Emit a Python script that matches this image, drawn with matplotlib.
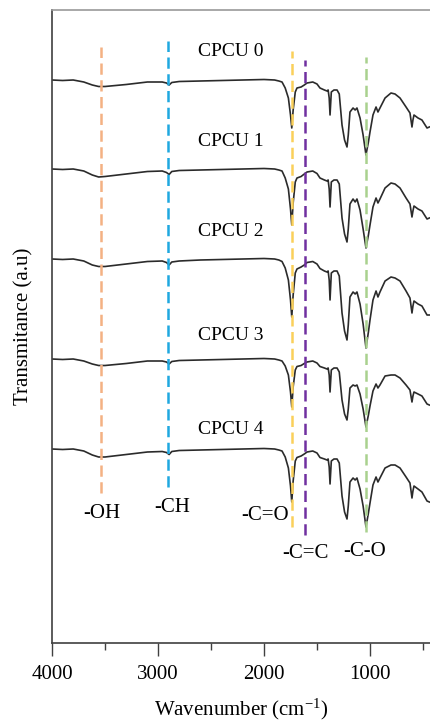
import numpy as np
import matplotlib
matplotlib.use("Agg")
from matplotlib import pyplot as plt

plt.rcParams['font.family'] = ['Liberation Serif', 'DejaVu Serif']
plt.rcParams['mathtext.fontset'] = 'custom'
plt.rcParams['mathtext.rm'] = 'Liberation Serif'
plt.rcParams['mathtext.it'] = 'Liberation Serif:italic'

# wavenumber grid (cm-1)
wn = [4000, 3900, 3800, 3700, 3620, 3560, 3500, 3300, 3100, 2960,
      2920, 2895, 2870, 2800, 2600, 2400, 2200, 2000, 1900, 1860,
      1830, 1800, 1770, 1750, 1738, 1725, 1705, 1689, 1650, 1620,
      1594, 1540, 1500, 1472, 1430, 1406, 1395, 1385, 1377, 1365,
      1340, 1311, 1290, 1264, 1240, 1217, 1205, 1189, 1160, 1140,
      1123, 1094, 1065, 1038, 1015, 1000, 972, 943, 925, 906,
      858, 802, 764, 717, 660, 623, 604, 595, 585, 547,
      510, 462, 440]

# absorption depth below each trace's baseline (a.u.)
cpcu0 = [0, 0.5, 0, 2, 5, 6.5, 6.5, 4.5, 2, 2,
         3, 5, 2.5, 1.5, 1, 0.5, 0, -0.5, 0, 1,
         2, 8, 18, 35, 48, 30, 12, 8, 7, 5,
         3, 2, 4, 8, 10, 11, 10, 18, 35, 12,
         10, 10, 14, 45, 60, 67, 55, 32, 28, 30,
         28, 38, 55, 75, 62, 52, 35, 27, 32, 28,
         18, 13, 14, 18, 27, 33, 47, 40, 35, 38,
         40, 48, 47]
cpcu1 = [0, 0.5, 0, 2, 6, 8, 7.5, 5, 2.5, 2,
         3.5, 5.5, 2.5, 1.5, 1, 0.5, 0, -0.5, 0, 1,
         2, 9, 20, 40, 56, 34, 13, 9, 7.5, 5,
         3, 2, 4.5, 9, 11, 12, 11, 20, 38, 13,
         11, 11, 15, 49, 65, 73, 60, 35, 30, 33,
         30, 41, 60, 79, 66, 56, 38, 29, 34, 30,
         19, 14, 15, 19, 29, 35, 48, 42, 37, 40,
         42, 50, 49]
cpcu2 = [0, 0.5, 0, 2, 6, 7.5, 7.5, 5, 2.5, 2,
         3.5, 6, 3, 2, 1, 0.5, 0, -0.5, 0, 1,
         2.5, 9, 21, 41, 58, 36, 14, 10, 8, 6,
         3.5, 2.5, 5, 9.5, 12, 13, 12, 21, 41, 14,
         12, 12, 17, 54, 72, 81, 66, 38, 33, 35,
         33, 45, 65, 89, 73, 61, 41, 32, 38, 33,
         22, 18, 19, 22, 32, 39, 54, 47, 42, 45,
         47, 56, 56]
cpcu3 = [0, 0.5, 0, 2, 5, 6.5, 6.5, 4.5, 2, 2,
         3, 5, 2.5, 1.5, 1, 0.5, 0, -0.5, 0, 1,
         2, 7, 16, 33, 48, 28, 11, 7.5, 6.5, 4.5,
         3, 2, 4, 7.5, 9, 10, 9, 16, 33, 11,
         9, 9, 13, 41, 55, 61, 50, 29, 26, 27,
         26, 35, 50, 68, 56, 47, 32, 25, 29, 26,
         17, 16, 16, 19, 26, 31, 43, 37, 33, 35,
         37, 45, 46]
cpcu4 = [0, 0.5, 0, 2, 6, 8, 8, 5.5, 3, 2.5,
         3.5, 5.5, 2.5, 1.5, 1, 0.5, 0, -0.5, 0, 1,
         2, 8, 19, 37, 53, 32, 12, 8.5, 7, 5,
         3, 2, 4, 8.5, 10, 11, 10, 18, 35, 12,
         10, 10, 14, 47, 63, 70, 57, 33, 29, 31,
         29, 40, 57, 78, 64, 54, 36, 28, 33, 29,
         19, 16, 16, 19, 28, 34, 49, 42, 37, 40,
         43, 52, 53]

samples = ["CPCU 0", "CPCU 1", "CPCU 2", "CPCU 3", "CPCU 4"]
spectra = [cpcu0, cpcu1, cpcu2, cpcu3, cpcu4]
offsets = [563, 474, 384, 284, 194]
label_y = [591, 502, 411, 307, 214]

# functional group markers: position, line span, label position, colour
groups = ["-OH", "-CH", "-C=O", "-C=C", "-C-O"]
group_wn = [3535, 2905, 1736, 1615, 1038]
group_top = [596, 602, 592, 583, 586]
group_bot = [150, 156, 116, 108, 111]
group_lx = [3528, 2868, 1991, 1613, 1047]
group_ly = [129, 135, 127, 90, 92]
group_col = ['#F4B183', '#1FA8E0', '#FAD05A', '#7030A0', '#A9D18E']

fig = plt.figure(figsize=(4.3, 7.24), dpi=100)
ax = fig.add_axes([52/430, 1 - 643/724, 378/430, 633/724])

for name, d, off, ly in zip(samples, spectra, offsets, label_y):
    ax.plot(wn, off - np.array(d), color='#2b2b2b', lw=1.2)
    ax.text(2310, ly, name, ha='center', va='center', fontsize=14)

for g, x, t, b, lx, lyy, c in zip(groups, group_wn, group_top, group_bot,
                                  group_lx, group_ly, group_col):
    ax.plot([x, x], [b, t], color=c, lw=1.8, dashes=(4.5, 2.2))
    ax.text(lx, lyy, g, ha='center', va='center', fontsize=15)

ax.set_xlim(4000, 434)
ax.set_ylim(0, 633)
ax.set_xticks([4000, 3000, 2000, 1000])
ax.set_xticks([3500, 2500, 1500, 500], minor=True)
ax.set_yticks([])
ax.tick_params(axis='x', which='major', direction='out', length=9, width=1,
               color='#404040', labelsize=15, pad=7)
ax.tick_params(axis='x', which='minor', direction='out', length=5, width=1,
               color='#404040')
ax.spines['right'].set_visible(False)
ax.spines['top'].set_color('#999999')
ax.spines['left'].set_color('#404040')
ax.spines['bottom'].set_color('#404040')
for s in ['left', 'bottom', 'top']:
    ax.spines[s].set_linewidth(1.2)

ax.set_xlabel("Wavenumber (cm$^{\\mathregular{-1}}$)", fontsize=15, labelpad=9)
ax.set_ylabel("Transmitance (a.u)", fontsize=15, labelpad=13)

plt.savefig("out.png", dpi=100)
